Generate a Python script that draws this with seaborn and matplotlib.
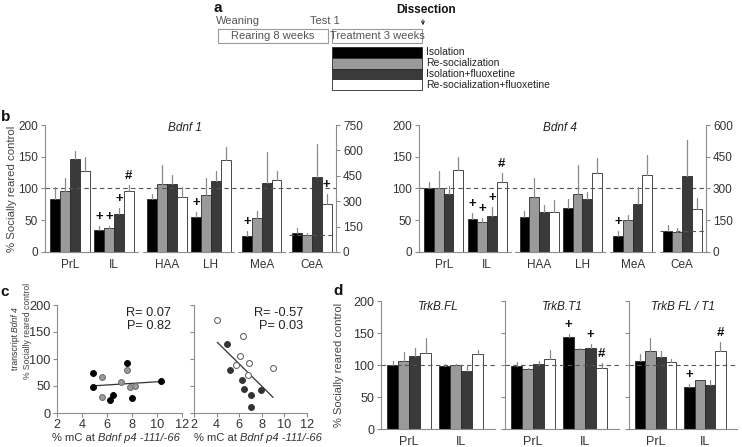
import numpy as np
import pandas as pd
import seaborn as sns
import matplotlib.pyplot as plt
from matplotlib.patches import Rectangle

# ---- data ----
groups = ["Isolation", "Re-socialization", "Isolation+fluoxetine", "Re-socialization+fluoxetine"]
b_regions = ["PrL", "IL", "HAA", "LH", "MeA", "CeA"]

# rows = regions (CeA is on the right axis), cols = groups
bdnf1_mean = [[83, 96, 146, 128], [34, 38, 60, 96], [84, 107, 107, 86],
              [55, 89, 112, 145], [25, 54, 109, 113], [114, 99, 444, 284]]
bdnf1_sem = [[20, 20, 13, 21], [7, 3, 9, 10], [8, 30, 14, 17],
             [8, 27, 15, 20], [8, 10, 48, 14], [30, 15, 192, 61]]
bdnf1_marks = [("IL", 0, "+"), ("IL", 1, "+"), ("IL", 2, "+"), ("IL", 3, "#"),
               ("LH", 0, "+"), ("MeA", 0, "+"), ("CeA", 3, "+")]

bdnf4_mean = [[100, 101, 92, 129], [52, 47, 57, 110], [55, 87, 63, 63],
              [69, 92, 83, 124], [25, 50, 75, 121], [100, 95, 360, 202]]
bdnf4_sem = [[10, 26, 12, 21], [9, 6, 14, 14], [10, 29, 11, 19],
             [15, 45, 12, 24], [8, 9, 28, 32], [26, 19, 169, 51]]
bdnf4_marks = [("IL", 0, "+"), ("IL", 1, "+"), ("IL", 2, "+"), ("IL", 3, "#"), ("MeA", 0, "+")]

# panel c scatter
c_left_x_iso = [4.85, 4.9, 7.6, 10.3, 6.2, 6.5, 8.0]
c_left_y_iso = [74, 48, 92, 60, 25, 33, 28]
c_left_x_res = [5.6, 5.6, 7.1, 7.6, 7.8, 8.2]
c_left_y_res = [67, 30, 57, 80, 49, 50]
c_right_x_isof = [4.95, 5.2, 6.25, 6.4, 7.0, 7.0, 7.95]
c_right_y_isof = [127, 79, 61, 45, 33, 12, 43]
c_right_x_resf = [4.06, 6.35, 6.1, 5.7, 6.9, 6.75, 9.0]
c_right_y_resf = [173, 143, 105, 88, 93, 71, 84]
c_stats = ["R= 0.07\nP= 0.82", "R= -0.57\nP= 0.03"]

# panel d
d_regions = ["PrL", "IL"]
trkb_fl_mean = [[100, 107, 114, 119], [98, 100, 90, 117]]
trkb_fl_sem = [[6, 14, 13, 23], [4, 2, 10, 7]]
trkb_t1_mean = [[98, 93, 102, 110], [144, 125, 127, 96]]
trkb_t1_sem = [[7, 3, 4.5, 14], [5, 1, 6.5, 7]]
trkb_ratio_mean = [[106, 122, 112, 105], [65, 76, 69, 122]]
trkb_ratio_sem = [[11, 20, 10, 5], [5, 1, 7, 14]]
trkb_t1_marks = [("IL", 0, "+"), ("IL", 2, "+"), ("IL", 3, "#")]
trkb_ratio_marks = [("IL", 0, "+"), ("IL", 3, "#")]

# ---- style ----
sns.set_theme(style="ticks")
plt.rcParams["font.family"] = ["Liberation Sans", "DejaVu Sans"]
plt.rcParams["axes.edgecolor"] = "#8c8c8c"
plt.rcParams["xtick.color"] = "#8c8c8c"
plt.rcParams["ytick.color"] = "#8c8c8c"
plt.rcParams["xtick.labelcolor"] = "#333333"
plt.rcParams["ytick.labelcolor"] = "#333333"

palette = {groups[0]: "#000000", groups[1]: "#9a9a9a", groups[2]: "#3a3a3a", groups[3]: "#ffffff"}
EDGE = "#2a2a2a"
ERR = "#8a8a8a"
SPINE = "#8c8c8c"
FS = 8.5
W, H = 742, 447
b_pos = [0, 1, 2.2, 3.2, 4.36, 5.5]

fig = plt.figure(figsize=(W / 100, H / 100), dpi=100)


def px_axes(x0, y0, x1, y1):
    return fig.add_axes([x0 / W, 1 - y1 / H, (x1 - x0) / W, (y1 - y0) / H])


def bar_frame(positions, means):
    rows = []
    for pos, vals in zip(positions, means):
        for g, v in zip(groups, vals):
            rows.append({"pos": pos, "group": g, "value": v})
    return pd.DataFrame(rows)


def draw_bars(ax, positions, means, sems, width):
    sns.barplot(data=bar_frame(positions, means), x="pos", y="value", hue="group",
                hue_order=groups, palette=palette, native_scale=True, width=width,
                errorbar=None, edgecolor=EDGE, linewidth=0.6, legend=False, ax=ax)
    bars = sorted(ax.patches, key=lambda p: p.get_x())
    for bar, err in zip(bars, np.ravel(sems)):
        cx = bar.get_x() + bar.get_width() / 2
        top = bar.get_height()
        ax.plot([cx, cx], [top, top + err], color=ERR, lw=0.9, zorder=3)
    ax.set_xlabel("")
    ax.set_ylabel("")
    return bars


def add_marks(ax, bars, sems, marks, regions):
    for reg, hue_i, sym in marks:
        i = regions.index(reg) * 4 + hue_i
        bar = bars[i]
        cx = bar.get_x() + bar.get_width() / 2
        top = bar.get_height() + np.ravel(sems)[i]
        ax.annotate(sym, (cx, top), xytext=(0, 6.5), textcoords="offset points",
                    ha="center", va="center", fontsize=9.5, fontweight="bold", color="#111111")


def draw_b(x0, x1, means, sems, marks, right_max, title, title_x):
    ax = px_axes(x0, 125, x1, 252)
    tw = ax.twinx()
    bars = draw_bars(ax, b_pos[:-1], means[:-1], sems[:-1], 0.9)
    bars_c = draw_bars(tw, b_pos[-1:], means[-1:], sems[-1:], 0.9)
    add_marks(ax, bars, sems[:-1], [m for m in marks if m[0] != "CeA"], b_regions[:-1])
    add_marks(tw, bars_c, sems[-1:], [m for m in marks if m[0] == "CeA"], ["CeA"])
    xmin, xmax = -0.57, 6.05
    ax.set_xlim(xmin, xmax)
    ax.set_ylim(0, 200)
    tw.set_ylim(0, right_max)
    ax.set_yticks(range(0, 201, 50))
    tw.set_yticks(range(0, right_max + 1, 150))
    ax.set_xticks(b_pos)
    ax.set_xticklabels(b_regions)
    ax.tick_params(axis="x", length=0, labelsize=FS, pad=5)
    ax.tick_params(axis="y", length=3, width=0.8, labelsize=FS, pad=2)
    tw.tick_params(axis="y", length=3, width=0.8, labelsize=FS, pad=2)
    for s in ["top", "right", "bottom"]:
        ax.spines[s].set_visible(False)
    for s in ["top", "left", "bottom"]:
        tw.spines[s].set_visible(False)
    ax.spines["left"].set_linewidth(0.8)
    tw.spines["right"].set_linewidth(0.8)
    # broken baseline between region pairs
    cuts = [(b_pos[i] + b_pos[i + 1]) / 2 for i in (1, 3, 4)]
    edges = [xmin] + [c for c in cuts for _ in (0, 1)] + [xmax]
    for k in range(0, len(edges), 2):
        a = edges[k] + (0.05 if k else 0)
        b = edges[k + 1] - (0.05 if k + 1 < len(edges) - 1 else 0)
        ax.plot([a, b], [0, 0], color=SPINE, lw=0.8, clip_on=False, zorder=4)
    ax.axhline(100, ls=(0, (4, 3)), color="#555555", lw=0.8, zorder=1)
    tw.plot([cuts[-1] + 0.05, xmax], [100, 100], ls=(0, (4, 3)), color="#555555", lw=0.8)
    ax.text((title_x - x0) / (x1 - x0), 0.975, title, transform=ax.transAxes,
            ha="center", va="center", fontsize=FS, fontstyle="italic", color="#222222")
    return ax


b1 = draw_b(45, 336, bdnf1_mean, bdnf1_sem, bdnf1_marks, 750, "Bdnf 1", 185)
b2 = draw_b(419, 706, bdnf4_mean, bdnf4_sem, bdnf4_marks, 600, "Bdnf 4", 560)
fig.text(12 / W, 1 - 189 / H, "% Socially reared control", rotation=90, ha="center",
         va="center", fontsize=8.2, color="#444444")

# ---- panel c ----
CFS = 9.2
c_axes = [px_axes(57, 305, 182, 413), px_axes(194, 305, 307, 413)]
c_data = [
    (c_left_x_iso, c_left_y_iso, c_left_x_res, c_left_y_res,
     dict(color="#000000", edgecolor="#000000"), dict(color="#9a9a9a", edgecolor="#6a6a6a")),
    (c_right_x_isof, c_right_y_isof, c_right_x_resf, c_right_y_resf,
     dict(color="#333333", edgecolor="#333333"), dict(color="#ffffff", edgecolor="#555555")),
]
stat_x = [0.91, 0.97]
for k, (ax, (xa, ya, xb, yb, sa, sb)) in enumerate(zip(c_axes, c_data)):
    sns.scatterplot(x=xa, y=ya, s=18, linewidth=0.7, ax=ax, zorder=3, **sa)
    sns.scatterplot(x=xb, y=yb, s=18, linewidth=0.7, ax=ax, zorder=3, **sb)
    sns.regplot(x=np.array(xa + xb), y=np.array(ya + yb), scatter=False, ci=None,
                truncate=True, color="#333333", line_kws=dict(lw=0.9), ax=ax)
    ax.set_xlim(2, 12)
    ax.set_ylim(0, 200)
    ax.set_xticks(range(2, 13, 2))
    ax.set_yticks(range(0, 201, 50))
    ax.tick_params(length=3, width=0.8, labelsize=CFS, pad=1.5)
    if k == 1:
        ax.set_yticklabels([])
    sns.despine(ax=ax)
    ax.spines["left"].set_linewidth(0.8)
    ax.spines["bottom"].set_linewidth(0.8)
    ax.text(stat_x[k], 0.98, c_stats[k], transform=ax.transAxes, ha="right", va="top",
            fontsize=CFS, color="#222222", linespacing=1.05)

for split in (98, 240):
    fig.text(split / W, 1 - 438 / H, "% mC at ", ha="right", va="center", fontsize=8, color="#333333")
    fig.text(split / W, 1 - 438 / H, "Bdnf p4 -111/-66", ha="left", va="center",
             fontsize=8, fontstyle="italic", color="#333333")
fig.text(16 / W, 1 - 332 / H, "transcript ", rotation=90, ha="center", va="top", fontsize=6.2, color="#333333")
fig.text(16 / W, 1 - 332 / H, "Bdnf 4", rotation=90, ha="center", va="bottom",
         fontsize=6.2, fontstyle="italic", color="#333333")
fig.text(27 / W, 1 - 331 / H, "% Socially reared control", rotation=90, ha="center",
         va="center", fontsize=6.2, color="#444444")

# ---- panel d ----
d_sets = [(trkb_fl_mean, trkb_fl_sem, [], "TrkB.FL"),
          (trkb_t1_mean, trkb_t1_sem, trkb_t1_marks, "TrkB.T1"),
          (trkb_ratio_mean, trkb_ratio_sem, trkb_ratio_marks, "TrkB FL / T1")]
for k, ((mean, sem, marks, title), (x0, x1)) in enumerate(zip(d_sets, [(381, 495), (505, 619), (629, 737)])):
    ax = px_axes(x0, 301, x1, 429)
    bars = draw_bars(ax, [0, 1], mean, sem, 0.84)
    add_marks(ax, bars, sem, marks, d_regions)
    ax.set_xlim(-0.54, 1.65)
    ax.set_ylim(0, 200)
    ax.set_yticks(range(0, 201, 50))
    ax.set_xticks([0, 1])
    ax.set_xticklabels(d_regions)
    ax.tick_params(axis="x", length=0, labelsize=9, pad=5)
    ax.tick_params(axis="y", length=3, width=0.8, labelsize=9, pad=2)
    if k > 0:
        ax.set_yticklabels([])
    sns.despine(ax=ax)
    ax.spines["left"].set_linewidth(0.8)
    ax.spines["bottom"].set_linewidth(0.8)
    ax.axhline(100, ls=(0, (4, 3)), color="#555555", lw=0.8, zorder=1)
    ax.text(0.5, 0.95, title, transform=ax.transAxes, ha="center", va="center",
            fontsize=FS, fontstyle="italic", color="#222222")
fig.text(339 / W, 1 - 365 / H, "% Socially reared control", rotation=90, ha="center",
         va="center", fontsize=8, color="#444444")

# ---- panel a schematic + panel letters ----
bg = fig.add_axes([0, 0, 1, 1], zorder=-1)
bg.set_xlim(0, W)
bg.set_ylim(H, 0)
bg.axis("off")
bg.patch.set_visible(False)
tc = "#555555"
bg.text(216, 21, "Weaning", fontsize=8, color=tc, va="center")
bg.text(310, 21, "Test 1", fontsize=8, color=tc, va="center")
bg.text(396, 10, "Dissection", fontsize=8.5, fontweight="bold", color="#111111", va="center")
bg.annotate("", xy=(423, 28), xytext=(423, 17),
            arrowprops=dict(arrowstyle="->", color="#222222", lw=0.7, mutation_scale=5))
for (bx0, bx1, label) in [(218, 328, "Rearing 8 weeks"), (332, 422, "Treatment 3 weeks")]:
    bg.add_patch(Rectangle((bx0, 29), bx1 - bx0, 14, fill=False, ec="#999999", lw=0.8))
    bg.text((bx0 + bx1) / 2, 36, label, fontsize=8, color=tc, ha="center", va="center")
for i, g in enumerate(groups):
    y = 47 + i * 10.75
    bg.add_patch(Rectangle((332, y), 90, 10.75, fc=palette[g], ec=EDGE, lw=0.6))
    bg.text(426, y + 5.4, g, fontsize=7.5, color="#222222", va="center")

for letter, (lx, ly) in zip("abcd", [(218, 8), (6, 117), (5, 292), (338, 291)]):
    bg.text(lx, ly, letter, fontsize=11, fontweight="bold", color="#111111", ha="center", va="center")

fig.savefig("out.png", dpi=100)
